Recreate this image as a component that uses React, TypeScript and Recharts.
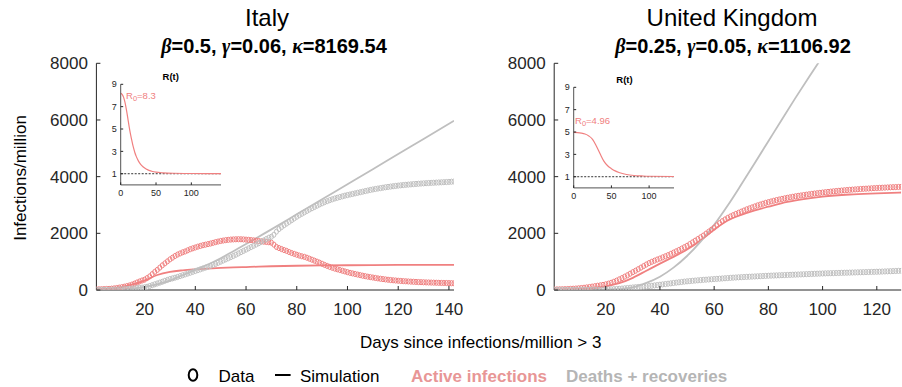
import React from 'react';
import { ComposedChart, LineChart, Line, Scatter, XAxis, YAxis, ReferenceLine } from 'recharts';

const FONT = '"Liberation Sans", Arial, Helvetica, sans-serif';
const INK = '#262626';
const RED = '#f08080';
const GRAY = '#bfbfbf';

// Italy, one value per day, day 1..142 (infections/million)
const itActive = [
  20, 25, 28, 32, 36, 40, 48, 58, 70, 85,
  100, 118, 138, 160, 190, 225, 265, 300, 335, 365,
  420, 480, 560, 640, 710, 790, 870, 940, 1010, 1080,
  1140, 1200, 1250, 1290, 1330, 1360, 1400, 1440, 1470, 1500,
  1530, 1555, 1580, 1600, 1620, 1640, 1665, 1690, 1710, 1730,
  1745, 1760, 1770, 1780, 1785, 1790, 1792, 1790, 1785, 1778,
  1770, 1762, 1752, 1742, 1730, 1718, 1705, 1695, 1685, 1670,
  1600, 1520, 1480, 1445, 1410, 1380, 1340, 1305, 1275, 1245,
  1215, 1190, 1170, 1140, 1105, 1070, 1035, 1000, 965, 925,
  885, 850, 815, 785, 755, 730, 705, 680, 655, 630,
  605, 585, 565, 545, 525, 505, 488, 470, 455, 440,
  425, 410, 397, 385, 373, 362, 352, 343, 335, 327,
  320, 313, 307, 301, 295, 290, 285, 280, 276, 272,
  268, 265, 262, 259, 256, 253, 250, 248, 246, 244,
  240, 237,
];
const itRemoved = [
  0, 0, 2, 4, 6, 8, 10, 13, 16, 20,
  25, 30, 36, 43, 50, 58, 66, 74, 84, 95,
  115, 140, 170, 200, 230, 260, 290, 325, 355, 385,
  410, 435, 460, 490, 520, 550, 580, 610, 640, 670,
  700, 730, 760, 790, 820, 850, 885, 920, 960, 1000,
  1040, 1080, 1120, 1160, 1200, 1245, 1290, 1335, 1380, 1425,
  1470, 1515, 1560, 1605, 1650, 1700, 1750, 1800, 1845, 1880,
  1950, 2060, 2150, 2220, 2285, 2345, 2405, 2465, 2525, 2585,
  2640, 2690, 2740, 2790, 2840, 2885, 2930, 2975, 3020, 3060,
  3100, 3135, 3170, 3200, 3230, 3255, 3280, 3305, 3330, 3350,
  3370, 3390, 3410, 3430, 3450, 3470, 3490, 3510, 3530, 3548,
  3565, 3580, 3595, 3610, 3625, 3638, 3650, 3662, 3673, 3684,
  3694, 3703, 3712, 3720, 3728, 3736, 3743, 3750, 3757, 3763,
  3769, 3775, 3780, 3785, 3790, 3795, 3800, 3805, 3810, 3815,
  3822, 3828,
];
const itSimDays = [1, 5, 10, 15, 20, 25, 30, 35, 40, 45, 50, 55, 60, 65, 70, 80, 90, 100, 110, 120, 130, 142];
const itSimActive = [20, 35, 85, 190, 330, 530, 640, 695, 730, 757, 778, 795, 810, 825, 838, 855, 866, 874, 880, 884, 887, 890];
const itSimRemoved = [0, 3, 15, 50, 110, 200, 330, 520, 710, 900, 1120, 1370, 1620, 1880, 2140, 2670, 3200, 3730, 4260, 4800, 5330, 5975];
const itRDays = [0, 2, 4, 6, 8, 10, 12, 14, 16, 18, 20, 22, 25, 28, 32, 36, 40, 45, 50, 60, 75, 100, 142];
const itR = [8.2, 8.1, 7.85, 7.4, 6.75, 6.0, 5.2, 4.5, 3.9, 3.35, 2.9, 2.55, 2.15, 1.85, 1.6, 1.42, 1.3, 1.2, 1.14, 1.08, 1.04, 1.02, 1.01];

// United Kingdom, day 1..129
const ukActive = [
  20, 22, 25, 28, 31, 35, 40, 45, 52, 60,
  70, 80, 92, 105, 120, 135, 150, 165, 180, 200,
  225, 255, 290, 330, 376, 420, 470, 520, 575, 630,
  680, 735, 790, 845, 900, 950, 995, 1035, 1075, 1110,
  1150, 1190, 1230, 1275, 1320, 1365, 1410, 1460, 1510, 1560,
  1620, 1680, 1740, 1800, 1860, 1920, 1990, 2060, 2130, 2200,
  2280, 2360, 2430, 2490, 2545, 2595, 2640, 2685, 2725, 2765,
  2805, 2845, 2880, 2915, 2950, 2985, 3015, 3045, 3075, 3100,
  3125, 3150, 3172, 3194, 3215, 3235, 3254, 3272, 3290, 3306,
  3322, 3336, 3350, 3364, 3378, 3391, 3404, 3416, 3428, 3440,
  3451, 3462, 3472, 3482, 3492, 3501, 3510, 3519, 3527, 3535,
  3543, 3550, 3557, 3564, 3570, 3576, 3582, 3588, 3594, 3599,
  3604, 3609, 3614, 3619, 3624, 3628, 3632, 3636, 3640,
];
const ukRemoved = [
  0, 0, 0, 1, 1, 2, 2, 3, 3, 4,
  5, 6, 7, 8, 9, 10, 12, 14, 16, 18,
  21, 25, 30, 36, 43, 51, 60, 70, 80, 90,
  98, 106, 114, 122, 130, 140, 150, 162, 174, 186,
  198, 210, 222, 235, 248, 260, 272, 284, 296, 306,
  315, 324, 333, 342, 350, 358, 365, 372, 379, 386,
  393, 400, 407, 414, 421, 428, 435, 441, 447, 453,
  458, 463, 468, 473, 478, 483, 488, 493, 498, 503,
  507, 511, 515, 519, 523, 527, 531, 535, 539, 543,
  547, 551, 555, 559, 563, 567, 571, 575, 579, 583,
  587, 590, 593, 596, 599, 602, 605, 608, 611, 614,
  617, 620, 623, 626, 629, 632, 635, 638, 641, 644,
  647, 651, 655, 659, 663, 667, 671, 675, 678,
];
const ukSimDays = [1, 10, 15, 20, 25, 30, 35, 40, 45, 50, 55, 60, 65, 70, 75, 80, 87, 93, 100, 110, 120, 129];
const ukSimActive = [20, 40, 70, 130, 240, 430, 680, 930, 1170, 1430, 1750, 2130, 2450, 2650, 2810, 2940, 3110, 3210, 3295, 3370, 3410, 3440];
const ukRemDays = [1, 10, 20, 25, 30, 35, 40, 45, 50, 55, 60, 65, 70, 75, 80, 85, 90, 95, 100, 105];
const ukSimRemoved = [0, 2, 10, 30, 90, 250, 470, 790, 1200, 1710, 2300, 2980, 3720, 4480, 5250, 6020, 6780, 7520, 8240, 8950];
const ukRDays = [0, 5, 10, 15, 20, 25, 30, 35, 40, 45, 50, 55, 60, 70, 80, 90, 100, 133];
const ukR = [4.96, 4.94, 4.9, 4.82, 4.65, 4.35, 3.75, 3.05, 2.4, 1.98, 1.72, 1.52, 1.38, 1.2, 1.11, 1.07, 1.04, 1.02];

const yTicks = [0, 2000, 4000, 6000, 8000];
const itXTicks = [20, 40, 60, 80, 100, 120, 140];
const ukXTicks = [20, 40, 60, 80, 100, 120];
const rXTicks = [0, 50, 100];
const rYTicks = [1, 3, 5, 7, 9];

const daily = (vals: number[]) => vals.map((v, i) => ({ day: i + 1, v }));
const pairs = (days: number[], vals: number[]) => days.map((d, i) => ({ day: d, v: vals[i] }));

// inward ticks, like a matlab box
const tickBottom = (m: number, len: number, fs: number) => (p: any) => (
  <g>
    <line x1={p.x} x2={p.x} y1={p.y - m} y2={p.y - m - len} stroke={INK} strokeWidth={1} />
    <text x={p.x} y={p.y} dy="0.71em" textAnchor="middle" fill={INK} fontSize={fs} fontFamily={FONT}>{p.payload.value}</text>
  </g>
);
const tickLeft = (m: number, len: number, fs: number) => (p: any) => (
  <g>
    <line x1={p.x + m} x2={p.x + m + len} y1={p.y} y2={p.y} stroke={INK} strokeWidth={1} />
    <text x={p.x} y={p.y} dy="0.35em" textAnchor="end" fill={INK} fontSize={fs} fontFamily={FONT}>{p.payload.value}</text>
  </g>
);
const tickTop = (len: number) => (p: any) => <line x1={p.x} x2={p.x} y1={p.y} y2={p.y + len} stroke={INK} strokeWidth={1} />;
const tickRight = (len: number) => (p: any) => <line x1={p.x} x2={p.x - len} y1={p.y} y2={p.y} stroke={INK} strokeWidth={1} />;

const marker = (color: string) => (p: any) => (
  <ellipse cx={p.cx} cy={p.cy} rx={2} ry={2.6} fill="none" stroke={color} strokeWidth={1} />
);

type PanelProps = {
  left: number; width: number; yAxisWidth: number; rightMargin: number; xMax: number; xTicks: number[];
  active: number[]; removed: number[];
  simActive: { day: number; v: number }[]; simRemoved: { day: number; v: number }[];
};

function MainPanel(p: PanelProps) {
  const axisLine = { stroke: INK, strokeWidth: 1 };
  return (
    <div style={{ position: 'absolute', left: p.left, top: 0 }}>
      <ComposedChart width={p.width} height={330} margin={{ top: 63.3, right: p.rightMargin, bottom: 10, left: 0 }}>
        <XAxis xAxisId="b" dataKey="day" type="number" domain={[1, p.xMax]} ticks={p.xTicks} interval={0}
          allowDataOverflow height={30} tickSize={0} tickMargin={13} tickLine={false} axisLine={axisLine}
          tick={tickBottom(13, 4, 17)} />
        <XAxis xAxisId="t" orientation="top" dataKey="day" type="number" domain={[1, p.xMax]} ticks={p.xTicks}
          interval={0} allowDataOverflow height={0} tickSize={0} tickMargin={0} tickLine={false}
          axisLine={axisLine} tick={tickTop(4)} />
        <YAxis yAxisId="l" type="number" domain={[0, 8000]} ticks={yTicks} interval={0} allowDataOverflow
          width={p.yAxisWidth} tickSize={0} tickMargin={8.5} tickLine={false} axisLine={axisLine}
          tick={tickLeft(8.5, 4, 17)} />
        <YAxis yAxisId="r" orientation="right" type="number" domain={[0, 8000]} ticks={yTicks} interval={0}
          allowDataOverflow width={0} tickSize={0} tickMargin={0} tickLine={false} axisLine={axisLine}
          tick={tickRight(4)} />
        <Scatter xAxisId="b" yAxisId="l" data={daily(p.active)} dataKey="v" shape={marker(RED)} isAnimationActive={false} />
        <Scatter xAxisId="b" yAxisId="l" data={daily(p.removed)} dataKey="v" shape={marker(GRAY)} isAnimationActive={false} />
        <Line xAxisId="b" yAxisId="l" data={p.simActive} dataKey="v" type="monotone" stroke={RED} strokeWidth={1.8}
          dot={false} activeDot={false} isAnimationActive={false} />
        <Line xAxisId="b" yAxisId="l" data={p.simRemoved} dataKey="v" type="monotone" stroke={GRAY} strokeWidth={1.8}
          dot={false} activeDot={false} isAnimationActive={false} />
      </ComposedChart>
    </div>
  );
}

function Inset({ left, top, xMax, data }: { left: number; top: number; xMax: number; data: { day: number; v: number }[] }) {
  const axisLine = { stroke: INK, strokeWidth: 0.8 };
  return (
    <div style={{ position: 'absolute', left, top }}>
      <LineChart width={130} height={130} data={data} margin={{ top: 14.3, right: 5, bottom: 3.1, left: 0 }}>
        <XAxis xAxisId="b" dataKey="day" type="number" domain={[0, xMax]} ticks={rXTicks} interval={0} allowDataOverflow
          height={12} tickSize={0} tickMargin={4.5} tickLine={false} axisLine={axisLine} tick={tickBottom(4.5, 2.5, 9)} />
        <XAxis xAxisId="t" orientation="top" dataKey="day" type="number" domain={[0, xMax]} ticks={rXTicks} interval={0}
          allowDataOverflow height={0} tickSize={0} tickMargin={0} tickLine={false} axisLine={axisLine} tick={tickTop(2.5)} />
        <YAxis yAxisId="l" type="number" domain={[0, 9]} ticks={rYTicks} interval={0} allowDataOverflow width={24.7}
          tickSize={0} tickMargin={4} tickLine={false} axisLine={axisLine} tick={tickLeft(4, 2.5, 9)} />
        <YAxis yAxisId="r" orientation="right" type="number" domain={[0, 9]} ticks={rYTicks} interval={0} allowDataOverflow
          width={0} tickSize={0} tickMargin={0} tickLine={false} axisLine={axisLine} tick={tickRight(2.5)} />
        <ReferenceLine xAxisId="b" yAxisId="l" y={1} stroke="#000" strokeWidth={0.8} strokeDasharray="2 1.5" />
        <Line xAxisId="b" yAxisId="l" dataKey="v" type="monotone" stroke={RED} strokeWidth={1.2} dot={false}
          activeDot={false} isAnimationActive={false} />
      </LineChart>
    </div>
  );
}

function Subtitle({ x, beta, gamma, kappa }: { x: number; beta: string; gamma: string; kappa: string }) {
  const greek = { fontFamily: '"Liberation Serif", "DejaVu Serif", serif', fontStyle: 'italic' as const };
  return (
    <text x={x} y={53.3} textAnchor="middle" fontSize={20} fontWeight="bold" fill="#000">
      <tspan {...greek}>β</tspan>={beta}, <tspan {...greek}>γ</tspan>={gamma}, <tspan {...greek}>κ</tspan>={kappa}
    </text>
  );
}

function R0Label({ x, y, value }: { x: number; y: number; value: string }) {
  return (
    <text x={x} y={y} fontSize={9.5} fill={RED}>
      R<tspan fontSize={7.5} dy={2.5}>0</tspan><tspan dy={-2.5}>={value}</tspan>
    </text>
  );
}

export default function App() {
  return (
    <div style={{ position: 'relative', width: 902, height: 387, background: '#fff', fontFamily: FONT, overflow: 'hidden' }}>
      <style>{'body{margin:0}'}</style>
      <MainPanel left={0} width={475} yAxisWidth={96.4} rightMargin={21} xMax={142} xTicks={itXTicks}
        active={itActive} removed={itRemoved}
        simActive={pairs(itSimDays, itSimActive)} simRemoved={pairs(itSimDays, itSimRemoved)} />
      <MainPanel left={460} width={442} yAxisWidth={94.2} rightMargin={0.8} xMax={129} xTicks={ukXTicks}
        active={ukActive} removed={ukRemoved}
        simActive={pairs(ukSimDays, ukSimActive)} simRemoved={pairs(ukRemDays, ukSimRemoved)} />
      <Inset left={96} top={70} xMax={142} data={pairs(itRDays, itR)} />
      <Inset left={549.3} top={73} xMax={133} data={pairs(ukRDays, ukR)} />

      <svg width={902} height={387} style={{ position: 'absolute', left: 0, top: 0, pointerEvents: 'none' }} fontFamily={FONT}>
        <text x={267} y={26} textAnchor="middle" fontSize={24} fill="#000">Italy</text>
        <text x={732} y={26} textAnchor="middle" fontSize={24} fill="#000">United Kingdom</text>
        <Subtitle x={274} beta="0.5" gamma="0.06" kappa="8169.54" />
        <Subtitle x={733} beta="0.25" gamma="0.05" kappa="1106.92" />

        <text x={170.7} y={80} textAnchor="middle" fontSize={9.5} fontWeight="bold" fill="#000">R(t)</text>
        <text x={624.5} y={82.8} textAnchor="middle" fontSize={9.5} fontWeight="bold" fill="#000">R(t)</text>
        <R0Label x={126} y={98.5} value="8.3" />
        <R0Label x={575} y={123.5} value="4.96" />

        <text x={25.5} y={178} transform="rotate(-90 25.5 178)" textAnchor="middle" fontSize={17} fill="#000">Infections/million</text>
        <text x={360} y={347.5} fontSize={17} fill="#000">Days since infections/million &gt; 3</text>

        <ellipse cx={193} cy={375} rx={4.3} ry={5.8} fill="none" stroke="#000" strokeWidth={2} />
        <text x={218.6} y={381.5} fontSize={17} fill="#000">Data</text>
        <line x1={275} x2={290.6} y1={375} y2={375} stroke="#000" strokeWidth={2} />
        <text x={300} y={381.5} fontSize={17} fill="#000">Simulation</text>
        <text x={411} y={381.5} fontSize={17} fontWeight="bold" fill="#e89696">Active infections</text>
        <text x={566} y={381.5} fontSize={17} fontWeight="bold" fill="#b5b5b5">Deaths + recoveries</text>
      </svg>
    </div>
  );
}
